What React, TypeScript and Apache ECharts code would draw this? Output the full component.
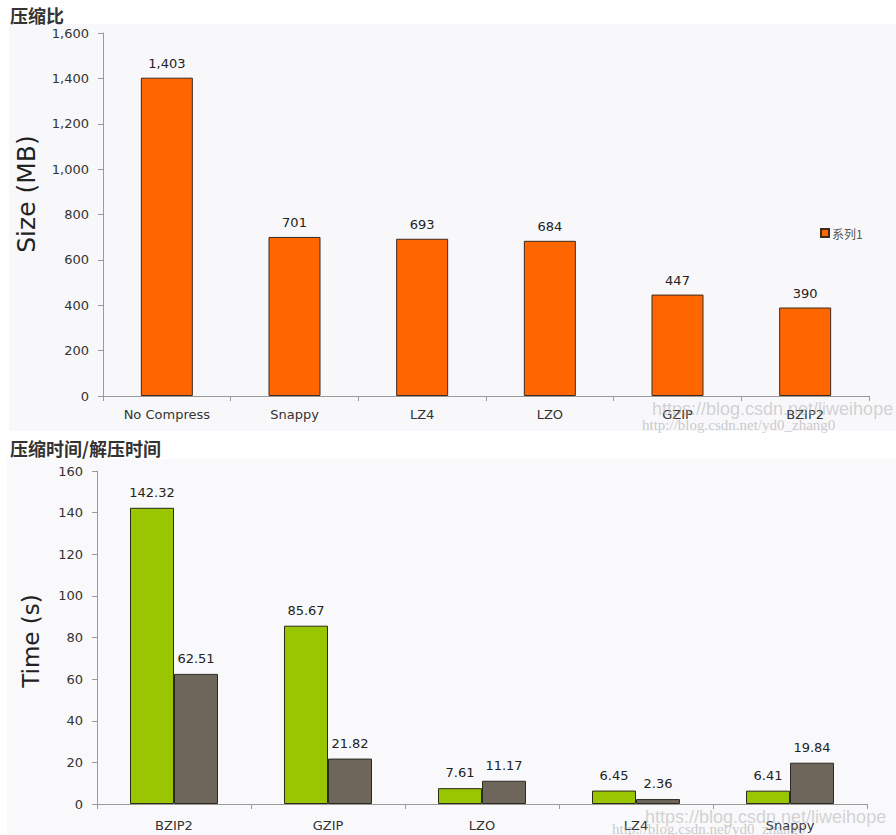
import React, { useEffect, useRef } from "react";
import * as echarts from "echarts";

const sizeCategories = ["No Compress", "Snappy", "LZ4", "LZO", "GZIP", "BZIP2"];
const sizeValues = [1403, 701, 693, 684, 447, 390];

const timeCategories = ["BZIP2", "GZIP", "LZO", "LZ4", "Snappy"];
const compressTime = [142.32, 85.67, 7.61, 6.45, 6.41];
const decompressTime = [62.51, 21.82, 11.17, 2.36, 19.84];

const title1 = "压缩比";
const title2 = "压缩时间/解压时间";
const legendName = "系列1";
const yName1 = "Size (MB)";
const yName2 = "Time (s)";

const FONT = "'DejaVu Sans', 'Liberation Sans', Arial, sans-serif";
const CJK = "'Noto Sans CJK SC', sans-serif";

export default function App() {
  const ref = useRef<HTMLDivElement>(null);
  useEffect(() => {
    if (!ref.current) return;
    const chart = echarts.init(ref.current, undefined, { renderer: "svg" });
    const fmtComma = (v: number) => v.toLocaleString("en-US");
    const axisCommon = {
      axisLine: { show: true, lineStyle: { color: "#9a9a9a", width: 1 } },
      axisTick: { show: true, length: 5, lineStyle: { color: "#9a9a9a" } },
      splitLine: { show: false },
    };
    chart.setOption({
      animation: false,
      backgroundColor: "#ffffff",
      textStyle: { fontFamily: FONT },
      title: [
        {
          text: title1,
          left: 5,
          top: 1,
          textStyle: { fontSize: 18, fontWeight: "bold", color: "#333", fontFamily: CJK },
        },
        {
          text: title2,
          left: 5,
          top: 434,
          textStyle: { fontSize: 18, fontWeight: "bold", color: "#333", fontFamily: CJK },
        },
      ],
      graphic: [
        { type: "rect", z: -10, shape: { x: 9, y: 24, width: 887, height: 407 }, style: { fill: "#f8f8fa" } },
        { type: "rect", z: -10, shape: { x: 7, y: 459, width: 889, height: 376 }, style: { fill: "#f9f9fb" } },
        {
          type: "text", z: 50, x: 26, y: 194, rotation: Math.PI / 2,
          style: { text: yName1, fill: "#222", font: "25px 'DejaVu Sans', sans-serif", textAlign: "center", textVerticalAlign: "middle" },
        },
        {
          type: "text", z: 50, x: 31, y: 641, rotation: Math.PI / 2,
          style: { text: yName2, fill: "#222", font: "23px 'DejaVu Sans', sans-serif", textAlign: "center", textVerticalAlign: "middle" },
        },
        { type: "text", z: 100, x: 652, y: 400, style: { text: "https://blog.csdn.net/liweihope", fill: "rgba(170,170,170,0.5)", font: "18px 'Liberation Sans', sans-serif" } },
        { type: "text", z: 100, x: 642, y: 417, style: { text: "http://blog.csdn.net/yd0_zhang0", fill: "rgba(160,160,160,0.55)", font: "15px 'Liberation Serif', serif" } },
        { type: "text", z: 100, x: 645, y: 808, style: { text: "https://blog.csdn.net/liweihope", fill: "rgba(170,170,170,0.5)", font: "18px 'Liberation Sans', sans-serif" } },
        { type: "text", z: 100, x: 612, y: 821, style: { text: "http://blog.csdn.net/yd0_zhang0", fill: "rgba(160,160,160,0.55)", font: "15px 'Liberation Serif', serif" } },
      ],
      legend: {
        data: [legendName],
        left: 815,
        top: 222,
        icon: "rect",
        itemWidth: 8,
        itemHeight: 8,
        itemGap: 4,
        textStyle: { fontSize: 12, color: "#555", fontFamily: CJK, padding: [0, 0, 0, -2] },
      },
      grid: [
        { left: 103, top: 33, width: 766, height: 363 },
        { left: 97, top: 471, width: 770, height: 333 },
      ],
      xAxis: [
        {
          type: "category",
          gridIndex: 0,
          data: sizeCategories,
          ...axisCommon,
          axisLabel: { fontSize: 13, color: "#333", margin: 12 },
        },
        {
          type: "category",
          gridIndex: 1,
          data: timeCategories,
          ...axisCommon,
          axisLabel: { fontSize: 13, color: "#333", margin: 15 },
        },
      ],
      yAxis: [
        {
          type: "value",
          gridIndex: 0,
          min: 0,
          max: 1600,
          interval: 200,
          ...axisCommon,
          axisLabel: { fontSize: 13, color: "#333", margin: 14, formatter: (v: number) => fmtComma(v) },
        },
        {
          type: "value",
          gridIndex: 1,
          min: 0,
          max: 160,
          interval: 20,
          ...axisCommon,
          axisLabel: { fontSize: 13, color: "#333", margin: 14 },
        },
      ],
      series: [
        {
          name: legendName,
          type: "bar",
          xAxisIndex: 0,
          yAxisIndex: 0,
          data: sizeValues,
          barWidth: 52,
          itemStyle: { color: "#ff6600", borderColor: "#3a2a20", borderWidth: 1 },
          label: { show: true, position: "top", distance: 8, fontSize: 13, color: "#222", formatter: (p: any) => fmtComma(p.value) },
        },
        {
          name: "压缩时间",
          type: "bar",
          xAxisIndex: 1,
          yAxisIndex: 1,
          data: compressTime,
          barWidth: 44,
          barGap: "0%",
          itemStyle: { color: "#99c600", borderColor: "#2a2a1a", borderWidth: 1 },
          label: { show: true, position: "top", distance: 9, fontSize: 13, color: "#222", formatter: (p: any) => p.value.toFixed(2) },
        },
        {
          name: "解压时间",
          type: "bar",
          xAxisIndex: 1,
          yAxisIndex: 1,
          data: decompressTime,
          barWidth: 44,
          barGap: "0%",
          itemStyle: { color: "#6e665a", borderColor: "#2a2a22", borderWidth: 1 },
          label: { show: true, position: "top", distance: 9, fontSize: 13, color: "#222", formatter: (p: any) => p.value.toFixed(2) },
        },
      ],
    });
    return () => chart.dispose();
  }, []);
  return (
    <div
      ref={ref}
      style={{ position: "absolute", left: 0, top: 0, width: 896, height: 835 }}
    />
  );
}
